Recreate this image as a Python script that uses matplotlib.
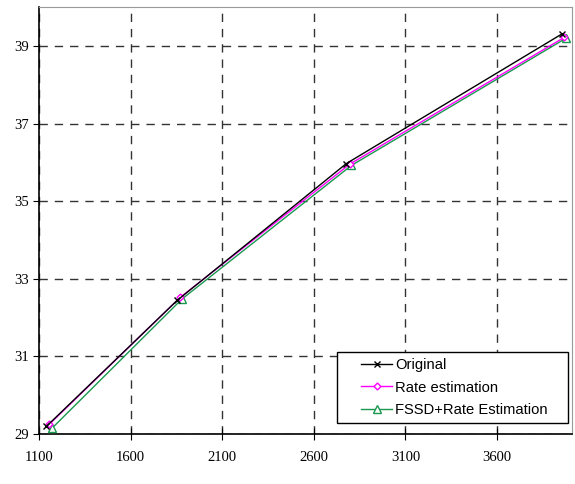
import matplotlib
matplotlib.use("Agg")
import matplotlib.pyplot as plt
from matplotlib.patches import Rectangle

# data
x_orig = [1140, 1855, 2778, 3952]
y_orig = [29.2, 32.45, 35.97, 39.3]
x_rate = [1155, 1870, 2795, 3968]
y_rate = [29.25, 32.52, 35.95, 39.22]
x_fssd = [1170, 1880, 2805, 3978]
y_fssd = [29.15, 32.48, 35.92, 39.2]

xticks = [1100, 1600, 2100, 2600, 3100, 3600]
yticks = [29, 31, 33, 35, 37, 39]

fig = plt.figure(figsize=(5.75, 4.84), dpi=100)
ax = fig.add_axes([0.068, 0.103, 0.927, 0.8825])

ax.plot(x_orig, y_orig, color='black', lw=1.0, marker='x', ms=4.5, mew=1.0, label='Original', zorder=5)
ax.plot(x_rate, y_rate, color='magenta', lw=1.0, marker='D', ms=3.5, mfc='white', mec='magenta', label='Rate estimation', zorder=4)
ax.plot(x_fssd, y_fssd, color='#1a9850', lw=1.0, marker='^', ms=5.5, mfc='white', mec='#1a9850', label='FSSD+Rate Estimation', zorder=3)

ax.set_xlim(1100, 4010)
ax.set_ylim(29, 40)
ax.set_xticks(xticks)
ax.set_yticks(yticks)
ax.grid(True, color='#333333', linestyle=(0, (6, 5)), lw=1.0)

for lab in ax.get_xticklabels() + ax.get_yticklabels():
    lab.set_family('Liberation Serif')
    lab.set_fontsize(10.5)
ax.tick_params(axis='x', direction='inout', length=8, pad=8)
ax.tick_params(axis='y', direction='out', length=4)

ax.spines['top'].set_color('#999999')
ax.spines['right'].set_color('#999999')
ax.spines['left'].set_linewidth(1.2)
ax.spines['bottom'].set_linewidth(1.2)

# legend box drawn separately so the padding matches
box = Rectangle((0.559, 0.026), 0.4335, 0.166, transform=ax.transAxes, facecolor='white',
                edgecolor='black', lw=1.0, zorder=6)
ax.add_patch(box)
leg = ax.legend(loc='center', bbox_to_anchor=(0.779, 0.109), frameon=False,
                prop={'family': 'Liberation Sans', 'size': 10.6}, handlelength=2.1,
                borderpad=0, borderaxespad=0, labelspacing=0.58, handletextpad=0.2)
leg.set_zorder(7)

fig.savefig('out.png', dpi=100)
